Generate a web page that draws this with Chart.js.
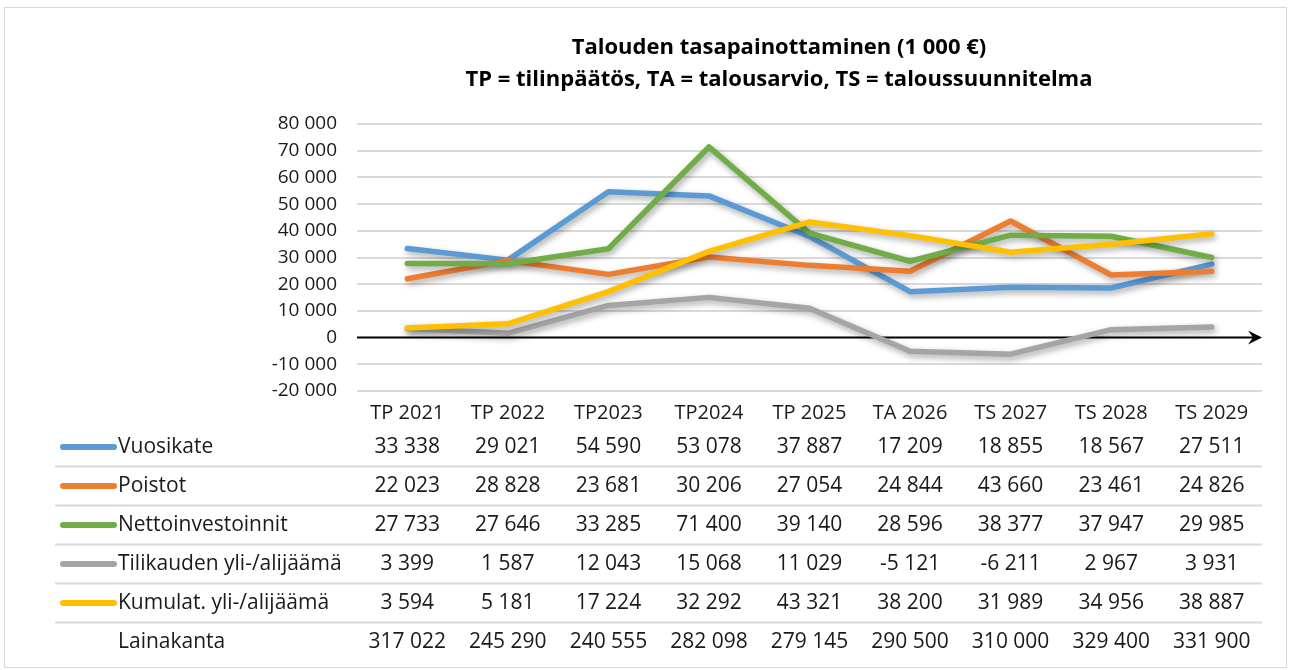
<!DOCTYPE html>
<html>
<head>
<meta charset="utf-8">
<script src="https://cdn.jsdelivr.net/npm/chart.js@4/dist/chart.umd.min.js"></script>
<style>
  body { margin: 0; background: #fff; }
  canvas { display: block; }
</style>
</head>
<body>
<canvas id="chart" width="1291" height="670"></canvas>
<script>
const categories = ['TP 2021', 'TP 2022', 'TP2023', 'TP2024', 'TP 2025', 'TA 2026', 'TS 2027', 'TS 2028', 'TS 2029'];

const vuosikate = [33338, 29021, 54590, 53078, 37887, 17209, 18855, 18567, 27511];
const poistot = [22023, 28828, 23681, 30206, 27054, 24844, 43660, 23461, 24826];
const nettoinvestoinnit = [27733, 27646, 33285, 71400, 39140, 28596, 38377, 37947, 29985];
const tilikausi = [3399, 1587, 12043, 15068, 11029, -5121, -6211, 2967, 3931];
const kumulat = [3594, 5181, 17224, 32292, 43321, 38200, 31989, 34956, 38887];
const lainakanta = [317022, 245290, 240555, 282098, 279145, 290500, 310000, 329400, 331900];

const titleLines = ['Talouden tasapainottaminen (1 000 €)', 'TP = tilinpäätös, TA = talousarvio, TS = taloussuunnitelma'];

const FONT = '"Open Sans", sans-serif';

function fmt(v) {
    const s = String(Math.abs(v)).replace(/\B(?=(\d{3})+(?!\d))/g, ' ');
    return (v < 0 ? '-' : '') + s;
}

const series = [
    { label: 'Vuosikate', data: vuosikate, color: '#5B9BD5' },
    { label: 'Poistot', data: poistot, color: '#ED7D31' },
    { label: 'Nettoinvestoinnit', data: nettoinvestoinnit, color: '#70AD47' },
    { label: 'Tilikauden yli-/alijäämä', data: tilikausi, color: '#A5A5A5' },
    { label: 'Kumulat. yli-/alijäämä', data: kumulat, color: '#FFC000' }
];

const tablePlugin = {
    id: 'dataTable',
    beforeDraw(chart) {
        const ctx = chart.ctx;
        ctx.save();
        ctx.fillStyle = '#fff';
        ctx.fillRect(0, 0, chart.width, chart.height);
        ctx.strokeStyle = '#D9D9D9';
        ctx.lineWidth = 1;
        ctx.strokeRect(4.5, 7.5, chart.width - 9, chart.height - 10);
        ctx.restore();
    },
    beforeDatasetsDraw(chart) {
        const ctx = chart.ctx;
        const area = chart.chartArea;
        const y0 = chart.scales.y.getPixelForValue(0);
        ctx.save();
        ctx.strokeStyle = '#000';
        ctx.fillStyle = '#000';
        ctx.lineWidth = 2;
        ctx.beginPath();
        ctx.moveTo(area.left, y0);
        ctx.lineTo(area.right - 6, y0);
        ctx.stroke();
        ctx.beginPath();
        ctx.moveTo(area.right, y0);
        ctx.lineTo(area.right - 14, y0 - 7);
        ctx.lineTo(area.right - 9, y0);
        ctx.lineTo(area.right - 14, y0 + 7);
        ctx.closePath();
        ctx.fill();
        ctx.restore();

        // soft shadow under the series lines
        ctx.save();
        ctx.shadowColor = 'rgba(0,0,0,0.35)';
        ctx.shadowBlur = 6;
        ctx.shadowOffsetX = 2;
        ctx.shadowOffsetY = 3;
    },
    afterDatasetsDraw(chart) {
        chart.ctx.restore();
    },
    afterDraw(chart) {
        const ctx = chart.ctx;
        const x = chart.scales.x;
        ctx.save();

        // title
        ctx.fillStyle = '#000';
        ctx.textAlign = 'center';
        ctx.textBaseline = 'middle';
        ctx.font = 'bold 22px ' + FONT;
        ctx.fillText(titleLines[0], 779, 48);
        ctx.fillText(titleLines[1], 779, 80);

        // data table
        const rows = series.concat([{ label: 'Lainakanta', data: lainakanta, color: null }]);
        const top = 447, step = 39;
        ctx.font = '21px ' + FONT;
        rows.forEach((row, i) => {
            const y = top + i * step;
            if (row.color) {
                ctx.strokeStyle = row.color;
                ctx.lineWidth = 6;
                ctx.lineCap = 'round';
                ctx.beginPath();
                ctx.moveTo(63, y);
                ctx.lineTo(114, y);
                ctx.stroke();
            }
            ctx.fillStyle = '#1a1a1a';
            ctx.textAlign = 'left';
            ctx.fillText(row.label, 118, y);
            ctx.textAlign = 'center';
            row.data.forEach((v, j) => {
                ctx.fillText(fmt(v), x.getPixelForValue(j), y);
            });
            if (i < rows.length - 1) {
                ctx.strokeStyle = '#D9D9D9';
                ctx.lineWidth = 2;
                ctx.lineCap = 'butt';
                ctx.beginPath();
                ctx.moveTo(55, y + step / 2);
                ctx.lineTo(chart.chartArea.right, y + step / 2);
                ctx.stroke();
            }
        });
        ctx.restore();
    }
};

new Chart(document.getElementById('chart'), {
    type: 'line',
    data: {
        labels: categories,
        datasets: series.map((s, i) => ({
            label: s.label,
            data: s.data,
            borderColor: s.color,
            backgroundColor: s.color,
            borderWidth: 5.5,
            borderCapStyle: 'round',
            borderJoinStyle: 'round',
            pointRadius: 0,
            tension: 0,
            order: series.length - i
        }))
    },
    options: {
        responsive: false,
        animation: false,
        layout: { padding: { top: 124, right: 29, left: 0, bottom: 0 } },
        plugins: {
            legend: { display: false },
            tooltip: { enabled: false },
            title: { display: false }
        },
        scales: {
            x: {
                offset: true,
                grid: { display: false, offset: true },
                border: { display: false },
                ticks: {
                    color: '#1a1a1a',
                    font: { family: FONT, size: 20 },
                    padding: 2,
                    maxRotation: 0
                },
                afterFit(scale) { scale.height = 670 - 391; }
            },
            y: {
                min: -20000,
                max: 80000,
                grid: {
                    color: (c) => c.tick && c.tick.value === 0 ? 'rgba(0,0,0,0)' : '#D9D9D9',
                    lineWidth: 2,
                    drawTicks: false
                },
                border: { display: false },
                ticks: {
                    stepSize: 10000,
                    color: '#1a1a1a',
                    font: { family: FONT, size: 19 },
                    padding: 20,
                    callback: (v) => fmt(v)
                },
                afterFit(scale) { scale.width = 357; }
            }
        }
    },
    plugins: [tablePlugin]
});
</script>
</body>
</html>
